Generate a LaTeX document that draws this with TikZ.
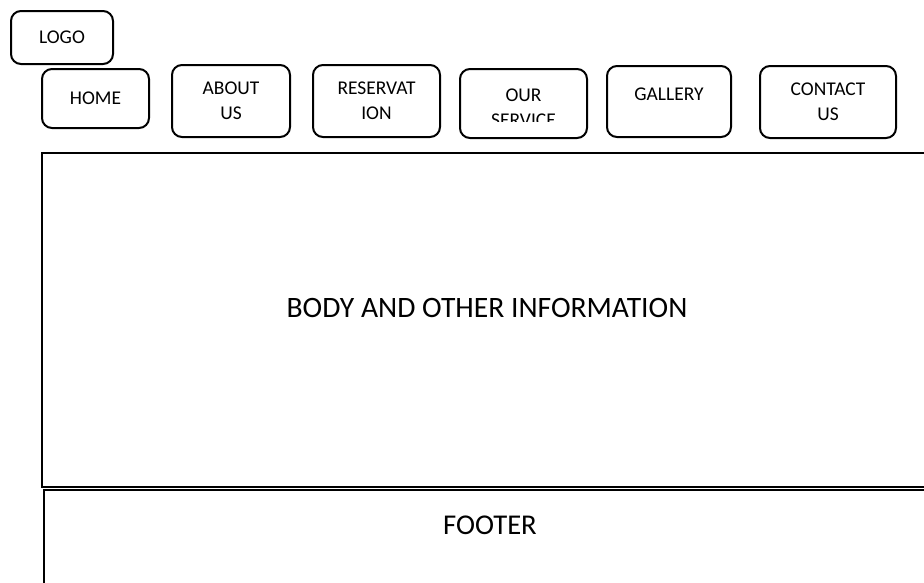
\documentclass[tikz,border=0pt]{standalone}
\usepackage{fontspec}
\setmainfont{Carlito}
\usepackage{tikz}

\tikzset{
  navbox/.style={draw, line width=1.5pt, rounded corners=7.5pt, align=center,
    font=\fontsize{14.6}{19}\selectfont},
  pagebox/.style={draw, line width=1.5pt, inner sep=0pt},
  bigtext/.style={font=\fontsize{21.5}{26}\selectfont}
}

\begin{document}
\begin{tikzpicture}[x=0.75pt, y=-0.75pt]
  \clip (0,0) rectangle (924,582);
  % header buttons
  \node[navbox, minimum width=102*0.75pt, minimum height=53*0.75pt] (logo) at (62,37.5) {LOGO};
  \node[navbox, minimum width=107*0.75pt, minimum height=59*0.75pt] (home) at (95.5,98.5) {HOME};
  \node[navbox, minimum width=118*0.75pt, minimum height=72*0.75pt] (about) at (231,101) {ABOUT\\US};
  \node[navbox, minimum width=127*0.75pt, minimum height=72*0.75pt] (reserve) at (376.5,101) {RESERVAT\\ION};
  \node[navbox, minimum width=127*0.75pt, minimum height=69*0.75pt] (service) at (523.5,103.5) {};
  \begin{scope}
    \clip (455,60) rectangle (592,121);
    \node[navbox, draw=none] (servicetext) at (523.5,107.5) {OUR\\SERVICE};
  \end{scope}
  \node[navbox, minimum width=124*0.75pt, minimum height=71*0.75pt, text height=9pt, text depth=11pt] (gallery) at (669,101.5) {GALLERY};
  \node[navbox, minimum width=136*0.75pt, minimum height=72*0.75pt] (contact) at (828,102) {CONTACT\\US};
  % page body and footer
  \node[pagebox, minimum width=888*0.75pt, minimum height=334*0.75pt] (body) at (486,320) {};
  \node[bigtext, font=\fontsize{22.2}{26}\selectfont] (bodytext) at (487,308) {BODY AND OTHER INFORMATION};
  \node[pagebox, minimum width=886*0.75pt, minimum height=120*0.75pt] (footer) at (487,550) {};
  \node[bigtext] (footertext) at (490,525) {FOOTER};
\end{tikzpicture}
\end{document}
